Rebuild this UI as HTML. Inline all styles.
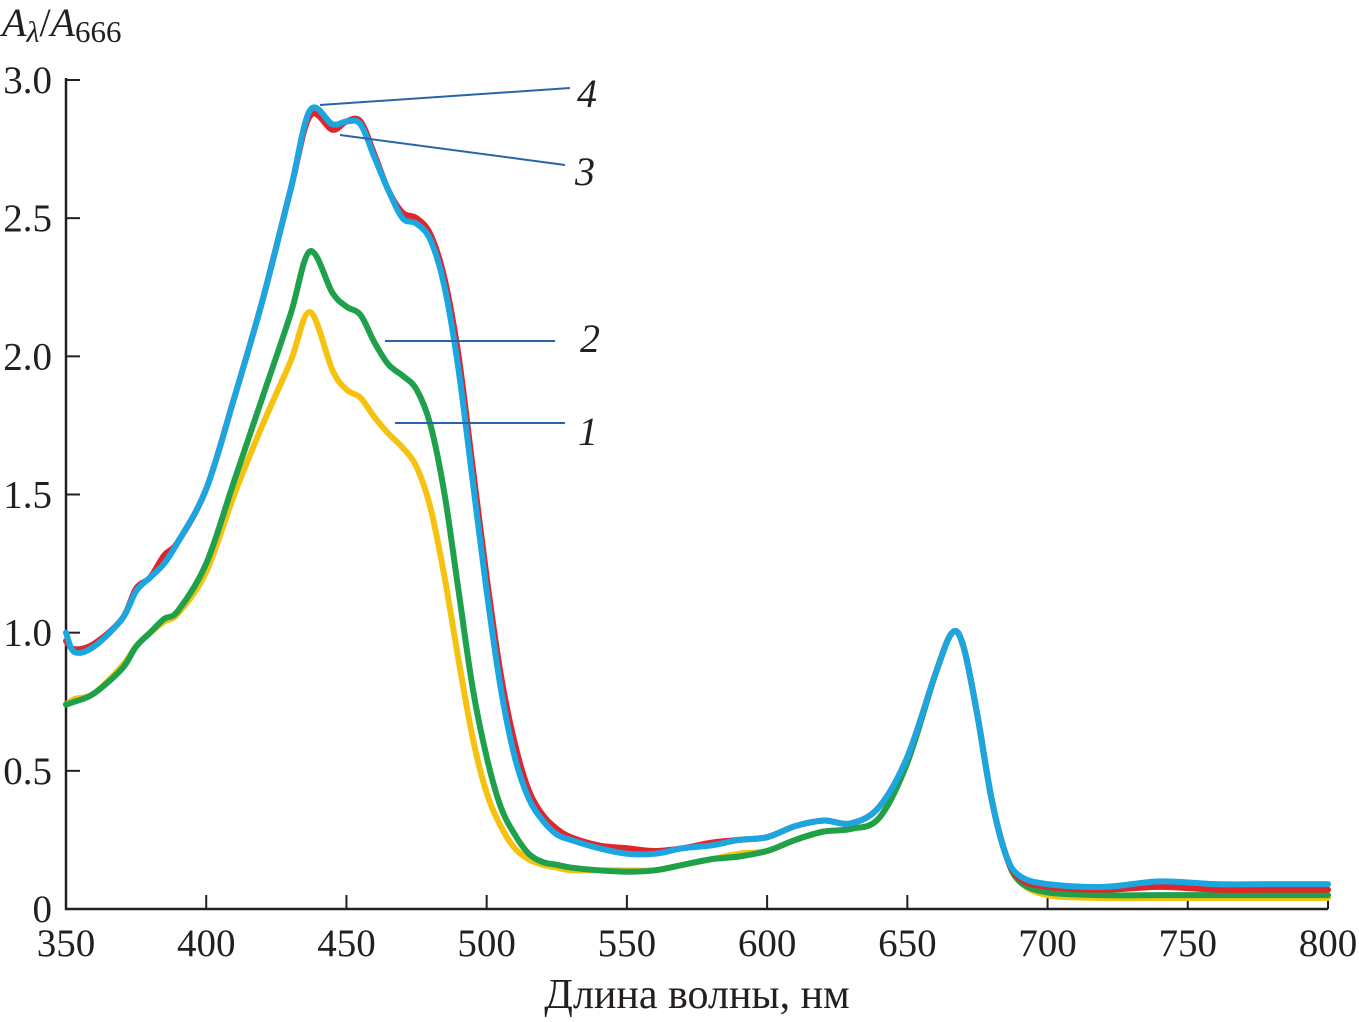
<!DOCTYPE html>
<html><head><meta charset="utf-8"><style>
body{margin:0;background:#fff}
svg{display:block;font-family:"Liberation Serif",serif}
</style></head><body>
<svg id="c" width="1359" height="1022"></svg>
<script>
const wavelengths=[350,353,360,370,375,380,385,390,400,410,420,430,437,445,450,455,460,465,470,475,480,485,490,495,500,505,510,515,520,525,530,540,550,560,570,580,590,600,610,620,630,640,650,660,666,670,675,680,685,690,700,720,740,760,780,800];
const series1=[0.74,0.76,0.78,0.88,0.95,1.0,1.04,1.07,1.22,1.5,1.75,1.98,2.16,1.95,1.88,1.85,1.78,1.72,1.67,1.6,1.45,1.2,0.9,0.62,0.42,0.3,0.22,0.18,0.16,0.15,0.14,0.14,0.14,0.14,0.16,0.18,0.2,0.21,0.25,0.28,0.29,0.33,0.53,0.85,1.0,0.95,0.7,0.4,0.2,0.1,0.05,0.04,0.04,0.04,0.04,0.04];
const series2=[0.74,0.75,0.78,0.87,0.95,1.0,1.05,1.08,1.25,1.55,1.85,2.15,2.38,2.23,2.18,2.15,2.05,1.97,1.93,1.88,1.75,1.5,1.15,0.8,0.55,0.37,0.27,0.2,0.17,0.16,0.15,0.14,0.135,0.14,0.16,0.18,0.19,0.21,0.25,0.28,0.29,0.33,0.53,0.85,1.0,0.95,0.7,0.4,0.2,0.1,0.06,0.05,0.05,0.05,0.05,0.05];
const series3=[0.97,0.94,0.96,1.05,1.16,1.2,1.28,1.33,1.52,1.85,2.2,2.6,2.87,2.82,2.85,2.85,2.73,2.6,2.52,2.5,2.44,2.28,2.0,1.6,1.2,0.85,0.6,0.43,0.34,0.29,0.26,0.23,0.22,0.21,0.22,0.24,0.25,0.26,0.3,0.32,0.31,0.37,0.55,0.85,1.0,0.95,0.7,0.4,0.2,0.11,0.08,0.07,0.08,0.07,0.07,0.07];
const series4=[1.0,0.93,0.95,1.05,1.15,1.2,1.25,1.33,1.52,1.85,2.2,2.6,2.89,2.84,2.85,2.84,2.72,2.6,2.5,2.48,2.42,2.25,1.95,1.55,1.15,0.8,0.55,0.4,0.32,0.27,0.25,0.22,0.2,0.2,0.22,0.23,0.25,0.26,0.3,0.32,0.31,0.37,0.55,0.85,1.0,0.95,0.7,0.4,0.2,0.12,0.09,0.08,0.1,0.09,0.09,0.09];
const xTicks=[350,400,450,500,550,600,650,700,750,800];
const yTicks=[0,0.5,1.0,1.5,2.0,2.5,3.0];
const yTickLabels=["0","0.5","1.0","1.5","2.0","2.5","3.0"];

const X0=66,X1=1328,Y0=909,Y1=80;
const sx=v=>X0+(v-350)/(800-350)*(X1-X0);
const sy=v=>Y0-v/3*(Y0-Y1);
const svg=document.getElementById('c');
const NS='http://www.w3.org/2000/svg';
function mk(tag,attrs,parent){const e=document.createElementNS(NS,tag);for(const k in attrs)e.setAttribute(k,attrs[k]);(parent||svg).appendChild(e);return e;}

const ax=mk('path',{d:`M${X0} ${Y1-2}V${Y0}H${X1}`,fill:'none',stroke:'#231f20','stroke-width':2.5});


xTicks.forEach(t=>{
  const l=mk('line',{x1:sx(t),x2:sx(t),y1:Y0,y2:Y0-14,stroke:'#231f20','stroke-width':2});
  
  
  const tx=mk('text',{x:sx(t),y:956,'text-anchor':'middle','font-size':39,fill:'#231f20'});
  tx.textContent=t;
  
  
});
yTicks.forEach((t,i)=>{
  if(t>0){const l=mk('line',{x1:X0,x2:X0+14,y1:sy(t),y2:sy(t),stroke:'#231f20','stroke-width':2});
  
  }
  const tx=mk('text',{x:52,y:sy(t)+13,'text-anchor':'end','font-size':39,fill:'#231f20'});
  tx.textContent=yTickLabels[i];
  
  
});
function pathFor(vals){
  const p=wavelengths.map((w,i)=>[sx(w),sy(vals[i])]);
  let d=`M${p[0][0]} ${p[0][1]}`;
  for(let i=0;i<p.length-1;i++){
    const a=p[Math.max(0,i-1)],b=p[i],c=p[i+1],e=p[Math.min(p.length-1,i+2)];
    d+=`C${b[0]+(c[0]-a[0])/6} ${b[1]+(c[1]-a[1])/6} ${c[0]-(e[0]-b[0])/6} ${c[1]-(e[1]-b[1])/6} ${c[0]} ${c[1]}`;
  }
  return d;
}
[[series1,'#f5c20f','series-1'],[series2,'#1fa04a','series-2'],[series3,'#e3242b','series-3'],[series4,'#1ba6e0','series-4']].forEach(s=>{
  const p=mk('path',{d:pathFor(s[0]),fill:'none',stroke:s[1],'stroke-width':6,'stroke-linejoin':'round','stroke-linecap':'round'});
  
  
});
[[320,105,570,88,'4',577,107],[340,135,565,165,'3',575,185],[385,341,555,341,'2',580,352],[395,423,565,423,'1',578,445]].forEach(a=>{
  const l=mk('line',{x1:a[0],y1:a[1],x2:a[2],y2:a[3],stroke:'#2a64a8','stroke-width':2});
  
  
  const t=mk('text',{x:a[5],y:a[6],'font-size':40,'font-style':'italic',fill:'#231f20'});
  t.textContent=a[4];
  
  
});
const yt=mk('text',{x:2,y:36,'font-size':40,fill:'#231f20'});
yt.innerHTML='<tspan font-style="italic">A</tspan><tspan font-style="italic" font-size="30" dy="6">λ</tspan><tspan dy="-6">/</tspan><tspan font-style="italic">A</tspan><tspan font-size="31" dy="6">666</tspan>';


const xt=mk('text',{x:697,y:1008,'text-anchor':'middle','font-size':42,fill:'#231f20'});
xt.textContent='Длина волны, нм';


</script>
</body></html>
